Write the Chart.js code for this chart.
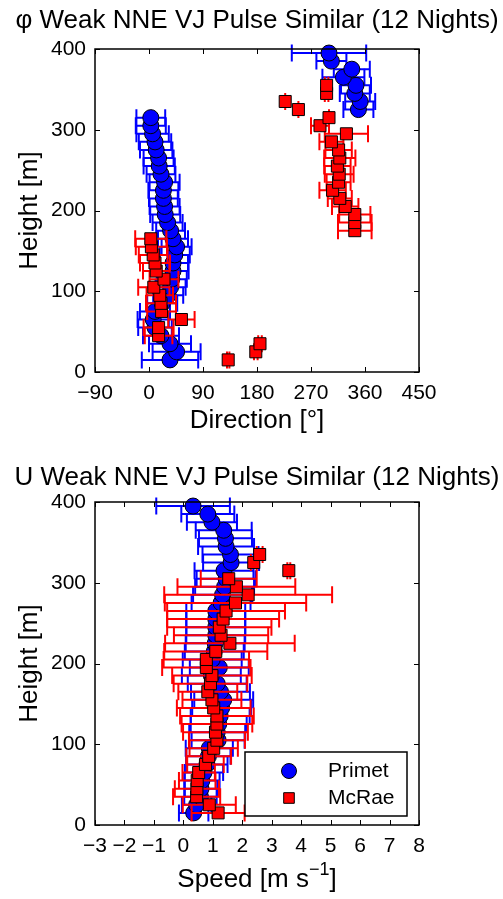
<!DOCTYPE html>
<html>
<head>
<meta charset="utf-8">
<script src="https://cdn.jsdelivr.net/npm/chart.js@4/dist/chart.umd.min.js"></script>
<style>
  html, body { margin: 0; padding: 0; background: #fff; }
  #wrap { position: relative; width: 503px; height: 899px; overflow: hidden; }
  canvas { position: absolute; left: 0; }
</style>
</head>
<body>
<div id="wrap">
  <canvas id="dirChart" width="503" height="450" style="top:0"></canvas>
  <canvas id="spdChart" width="503" height="449" style="top:450px"></canvas>
</div>
<script>
// ---- Profile data (heights in m) ----
const heightsPrimet = [15,25,35,45,55,65,75,85,95,105,115,125,135,145,155,165,175,185,195,205,
                       215,225,235,245,255,265,275,285,295,305,315,325,335,345,355,365,375,385,395];
const heightsMcRaeDir = [15,25,35,45,55,65,75,85,95,105,115,125,135,145,155,165,175,185,195,205,
                         215,225,235,245,255,265,275,285,295,305,315,325,335,345,355];
const heightsMcRaeSpd = [15,25,35,45,55,65,75,85,95,105,115,125,135,145,155,165,175,185,195,205,
                         215,225,235,245,255,265,275,285,295,305,315,325,335];

// Wind direction [deg] and spread
const dirPrimet = [35,46,35,20,10,7,10,22,32,36,38,40,40,43,46,40,36,31,27,26,
                   24,24,26,20,17,16,12,10,6,3,3,349,352,343,345,324,338,304,300];
const dirPrimetErr = [47,40,35,30,28,26,25,25,25,25,25,26,25,25,25,25,24,25,25,25,
                      24,25,25,24,26,25,27,27,27,25,24,25,25,25,25,35,30,25,62];
const dirMcRae = [132,178,185,16,16,54,21,20,18,8,25,12,10,7,4,3,343,343,343,327,
                  318,306,316,317,314,318,316,304,329,285,300,249,227,296,296];
const dirMcRaeErr = [2,3,3,23,25,22,24,25,22,26,24,22,25,24,26,26,28,28,26,22,
                     20,22,20,24,22,26,22,20,36,15,0,0,0,3,3];

// Wind speed [m s-1] and spread
const speedPrimet = [0.35,0.45,0.58,0.6,0.63,0.7,0.8,0.85,0.88,1.18,1.15,1.2,1.25,1.3,1.37,1.26,1.15,0.95,1.22,0.98,
                     1.05,1.08,1.1,1.1,1.1,1.1,1.28,1.33,1.4,1.45,1.38,1.62,1.6,1.45,1.43,1.37,0.97,0.83,0.33];
const speedPrimetErr = [0.5,0.5,0.55,0.55,0.6,0.65,0.7,0.75,0.8,0.9,0.95,0.95,1.0,1.0,1.0,1.0,1.0,1.0,1.0,1.0,
                        1.0,1.0,1.0,1.0,1.0,1.0,1.0,1.0,1.0,1.0,1.0,0.95,0.95,0.95,0.9,0.95,0.85,0.9,1.25];
const speedMcRae = [1.18,0.88,0.45,0.46,0.47,0.52,0.75,0.86,1.03,1.14,1.09,1.14,1.14,1.03,0.97,0.83,0.92,0.97,0.78,0.78,
                    1.1,1.58,1.28,1.22,1.35,1.45,1.77,2.2,1.8,1.54,3.58,2.39,2.59];
const speedMcRaeErr = [0.9,0.9,0.8,0.75,0.62,0.55,0.62,0.76,0.82,0.95,1.1,1.2,1.25,1.25,1.0,1.0,1.25,1.35,1.5,1.45,
                       1.75,2.2,1.6,1.77,1.9,2.0,2.4,2.85,2.0,0.95,0.05,0.1,0.1];

// Axis ticks
const dirTicks = [-90,0,90,180,270,360,450];
const speedTicks = [-3,-2,-1,0,1,2,3,4,5,6,7,8];
const heightTicks = [0,100,200,300,400];

const seriesNames = ['Primet', 'McRae'];
const FONT = '"Liberation Sans", Arial, Helvetica, sans-serif';
const BLUE = '#0000ff', RED = '#ff0000';

function pts(xs, ys) { return xs.map((v, i) => ({ x: v, y: ys[i] })); }
function minusLabel(v) { return v < 0 ? '\u2212' + Math.abs(v) : String(v); }

// Horizontal error bars, drawn just before each dataset's markers
const errorBarPlugin = {
  id: 'xErrorBars',
  beforeDatasetDraw(chart, args) {
    const ds = chart.data.datasets[args.index];
    if (!ds.xErr) return;
    const { ctx, scales: { x, y } } = chart;
    const cap = 8.5;
    ctx.save();
    ctx.strokeStyle = ds.barColor;
    ctx.lineWidth = 2;
    ds.data.forEach((p, i) => {
      const e = ds.xErr[i];
      const x0 = x.getPixelForValue(p.x - e);
      const x1 = x.getPixelForValue(p.x + e);
      const py = y.getPixelForValue(p.y);
      ctx.beginPath();
      ctx.moveTo(x0, py); ctx.lineTo(x1, py);
      ctx.moveTo(x0, py - cap); ctx.lineTo(x0, py + cap);
      ctx.moveTo(x1, py - cap); ctx.lineTo(x1, py + cap);
      ctx.stroke();
    });
    ctx.restore();
  }
};

// Axes box, inward ticks and titles
const framePlugin = {
  id: 'frame',
  afterDraw(chart, args, o) {
    const { ctx, chartArea: a, scales: { x, y } } = chart;
    ctx.save();
    ctx.strokeStyle = '#000';
    ctx.lineWidth = 1;
    const L = 5;
    ctx.beginPath();
    x.ticks.forEach(t => {
      const px = Math.round(x.getPixelForValue(t.value)) + 0.5;
      ctx.moveTo(px, a.bottom); ctx.lineTo(px, a.bottom - L);
      ctx.moveTo(px, a.top); ctx.lineTo(px, a.top + L);
    });
    y.ticks.forEach(t => {
      const py = Math.round(y.getPixelForValue(t.value)) + 0.5;
      ctx.moveTo(a.left, py); ctx.lineTo(a.left + L, py);
      ctx.moveTo(a.right, py); ctx.lineTo(a.right - L, py);
    });
    ctx.stroke();
    ctx.lineWidth = 1.5;
    ctx.strokeRect(a.left, a.top, a.right - a.left, a.bottom - a.top);

    ctx.fillStyle = '#000';
    ctx.textBaseline = 'middle';
    ctx.textAlign = 'center';
    const cx = (a.left + a.right) / 2;
    ctx.font = o.titleSize + 'px ' + FONT;
    ctx.fillText(o.title, cx, o.titleY);

    ctx.font = o.axisSize + 'px ' + FONT;
    if (o.xSup) {
      const main = o.xTitle, sup = o.xSup, tail = o.xTail;
      const supFont = Math.round(o.axisSize * 0.7) + 'px ' + FONT;
      const wMain = ctx.measureText(main).width;
      ctx.font = supFont;
      const wSup = ctx.measureText(sup).width;
      ctx.font = o.axisSize + 'px ' + FONT;
      const wTail = ctx.measureText(tail).width;
      let sx = cx - (wMain + wSup + wTail) / 2;
      ctx.textAlign = 'left';
      ctx.fillText(main, sx, o.xTitleY); sx += wMain;
      ctx.font = supFont;
      ctx.fillText(sup, sx, o.xTitleY - o.axisSize * 0.38); sx += wSup;
      ctx.font = o.axisSize + 'px ' + FONT;
      ctx.fillText(tail, sx, o.xTitleY);
    } else {
      ctx.fillText(o.xTitle, cx, o.xTitleY);
    }
    ctx.textAlign = 'center';
    ctx.translate(o.yTitleX, (a.top + a.bottom) / 2);
    ctx.rotate(-Math.PI / 2);
    ctx.fillText(o.yTitle, 0, 0);
    ctx.restore();
  }
};

// Boxed legend inside the lower-right of the plot
const insetLegendPlugin = {
  id: 'insetLegend',
  afterDraw(chart, args, o) {
    if (!o.show) return;
    const { ctx } = chart;
    ctx.save();
    ctx.fillStyle = '#fff';
    ctx.fillRect(o.left, o.top, o.width, o.height);
    ctx.strokeStyle = '#000';
    ctx.lineWidth = 1.5;
    ctx.strokeRect(o.left, o.top, o.width, o.height);
    chart.data.datasets.forEach((ds, i) => {
      const yy = o.top + o.rowTop + i * o.rowGap;
      ctx.fillStyle = ds.backgroundColor;
      ctx.strokeStyle = '#000';
      ctx.lineWidth = 1;
      Chart.helpers.drawPoint(ctx, { pointStyle: ds.pointStyle, radius: o.markRadius[i], rotation: 0, borderWidth: 1 }, o.left + o.markX, yy);
      ctx.fillStyle = '#000';
      ctx.font = o.fontSize + 'px ' + FONT;
      ctx.textAlign = 'left';
      ctx.textBaseline = 'middle';
      ctx.fillText(ds.label, o.left + o.textX, yy);
    });
    ctx.restore();
  }
};

function makeDataset(label, xs, ys, errs, color, style, radius, order) {
  return {
    label, data: pts(xs, ys), xErr: errs, barColor: color,
    showLine: false, pointStyle: style, pointRadius: radius,
    backgroundColor: color, borderColor: '#000', borderWidth: 1,
    clip: false, order
  };
}

function axisScale(min, max, ticks, fit, isX) {
  return {
    type: 'linear', min, max,
    afterBuildTicks(s) { s.ticks = ticks.map(v => ({ value: v })); },
    ticks: {
      autoSkip: false, maxRotation: 0, minRotation: 0,
      padding: 9, color: '#000',
      font: { family: FONT, size: 21 },
      callback: minusLabel
    },
    grid: { display: false, drawTicks: false },
    border: { display: false },
    afterFit(s) { if (isX) s.height = fit; else s.width = fit; }
  };
}

function buildChart(id, cfg) {
  return new Chart(document.getElementById(id), {
    type: 'scatter',
    data: { datasets: cfg.datasets },
    options: {
      responsive: false, animation: false, events: [],
      layout: { padding: { left: 0, right: 84, top: cfg.top, bottom: 0 } },
      scales: {
        x: axisScale(cfg.xMin, cfg.xMax, cfg.xTicks, cfg.xH, true),
        y: axisScale(0, 400, heightTicks, 95, false)
      },
      plugins: {
        legend: { display: false }, tooltip: { enabled: false },
        frame: cfg.frame,
        insetLegend: cfg.legend || { show: false }
      }
    },
    plugins: [errorBarPlugin, framePlugin, insetLegendPlugin]
  });
}

// Direction profile
buildChart('dirChart', {
  top: 49, xH: 78, xMin: -90, xMax: 450, xTicks: dirTicks,
  datasets: [
    makeDataset(seriesNames[0], dirPrimet, heightsPrimet, dirPrimetErr, BLUE, 'circle', 8, 2),
    makeDataset(seriesNames[1], dirMcRae, heightsMcRaeDir, dirMcRaeErr, RED, 'rect', 8.5, 1)
  ],
  frame: {
    title: '\u03c6 Weak NNE VJ Pulse Similar (12 Nights)', titleSize: 26, titleY: 21,
    xTitle: 'Direction [\u00b0]', xTitleY: 421, yTitle: 'Height [m]', yTitleX: 30, axisSize: 26
  }
});

// Speed profile
buildChart('spdChart', {
  top: 52, xH: 74, xMin: -3, xMax: 8, xTicks: speedTicks,
  datasets: [
    makeDataset(seriesNames[0], speedPrimet, heightsPrimet, speedPrimetErr, BLUE, 'circle', 8, 2),
    makeDataset(seriesNames[1], speedMcRae, heightsMcRaeSpd, speedMcRaeErr, RED, 'rect', 8.5, 1)
  ],
  frame: {
    title: 'U Weak NNE VJ Pulse Similar (12 Nights)', titleSize: 26, titleY: 28,
    xTitle: 'Speed [m s', xSup: '\u22121', xTail: ']', xTitleY: 430, yTitle: 'Height [m]', yTitleX: 30, axisSize: 26
  },
  legend: {
    show: true, left: 245, top: 302, width: 162, height: 64,
    rowTop: 19, rowGap: 27, markX: 44, textX: 83, fontSize: 21, markRadius: [7.5, 7.5]
  }
});
</script>
</body>
</html>
